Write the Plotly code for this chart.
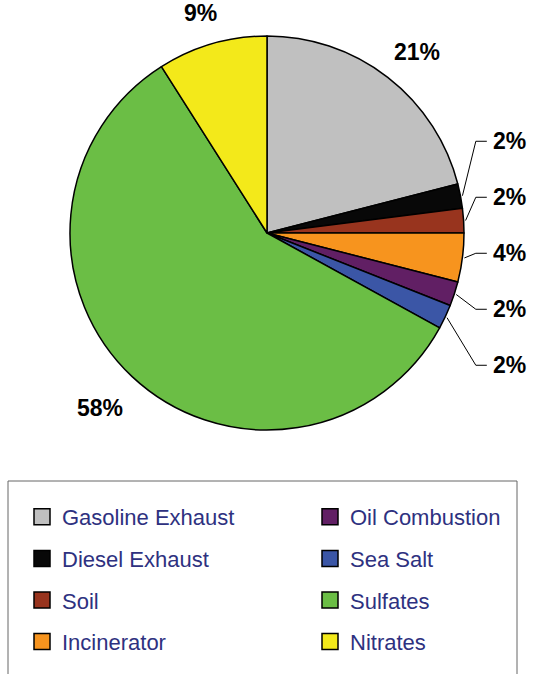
import math
import plotly.graph_objects as go

# Source contributions (percent of total)
categories = ["Gasoline Exhaust", "Diesel Exhaust", "Soil", "Incinerator",
              "Oil Combustion", "Sea Salt", "Sulfates", "Nitrates"]
shares = [21, 2, 2, 4, 2, 2, 58, 9]
colors = ["#c0c0c0", "#080808", "#98341e", "#f7941e",
          "#611f64", "#3b56a6", "#6bbe45", "#f3e91a"]
legend_col1 = categories[:4]
legend_col2 = categories[4:]

W, H = 533, 674
CX, CY, R = 267, 233, 197          # pie centre and radius (px)
FONT = "Liberation Sans, Arial, sans-serif"
TEXT_NAVY = "#2e3180"


def px(x):
    return x / W


def py(y):
    return 1 - y / H


fig = go.Figure()

fig.add_trace(go.Pie(
    labels=categories, values=shares, sort=False, direction="clockwise",
    rotation=0, textinfo="none", hoverinfo="label+percent",
    marker=dict(colors=colors, line=dict(color="black", width=1.5)),
    domain=dict(x=[px(CX - R), px(CX + R)], y=[py(CY + R), py(CY - R)]),
    showlegend=False,
))

# Percent labels: large slices sit just off the rim, small ones are
# stacked on the right and tied back with leader lines.
total = sum(shares)
cum = 0
small = []
for name, v in zip(categories, shares):
    theta = 2 * math.pi * (cum + v / 2) / total
    cum += v
    s, c = math.sin(theta), math.cos(theta)
    text = f"{round(100 * v / total)}%"
    if v >= 5:
        w = 12 * len(text) + 10
        g = 24
        lx = CX + (R + g) * s + s * w / 2
        ly = CY - (R + g) * c - c * 8 + (8 if c < 0 else 0)
        fig.add_annotation(x=px(lx), y=py(ly), xref="paper", yref="paper",
                           text=f"<b>{text}</b>", showarrow=False,
                           font=dict(family=FONT, size=23, color="black"),
                           xanchor="center", yanchor="middle")
    else:
        small.append((text, CX + R * 1.01 * s, CY - R * 1.01 * c))

gap = 56
mean_y = sum(e[2] for e in small) / len(small) - 4
elbow_x = CX + R * 1.06
for i, (text, ex, ey) in enumerate(small):
    ly = mean_y + (i - (len(small) - 1) / 2) * gap
    fig.add_shape(type="path", xref="paper", yref="paper",
                  path=f"M {px(ex)} {py(ey)} L {px(elbow_x)} {py(ly)} "
                       f"L {px(elbow_x + 11)} {py(ly)}",
                  line=dict(color="black", width=1))
    fig.add_annotation(x=px(elbow_x + 15), y=py(ly), xref="paper", yref="paper",
                       text=f"<b>{text}</b>", showarrow=False,
                       font=dict(family=FONT, size=23, color="black"),
                       xanchor="left", yanchor="middle")

# Legend entries in two columns
for name, col in zip(categories, colors):
    fig.add_trace(go.Scatter(
        x=[None], y=[None], mode="markers", name=name, legendgroup=name,
        legend="legend" if name in legend_col1 else "legend2",
        marker=dict(symbol="square", size=16, color=col,
                    line=dict(color="black", width=1.5)),
        hoverinfo="skip",
    ))

legend_common = dict(
    font=dict(family=FONT, size=22, color=TEXT_NAVY),
    bgcolor="rgba(0,0,0,0)", borderwidth=0, traceorder="grouped",
    tracegroupgap=10, yanchor="top", xanchor="left", itemclick=False,
)

# Legend frame (open at the bottom edge of the page)
fig.add_shape(type="rect", xref="paper", yref="paper",
              x0=px(8), x1=px(517), y0=-0.05, y1=py(481),
              line=dict(color="#666666", width=1), fillcolor="rgba(0,0,0,0)")

fig.update_layout(
    width=W, height=H,
    margin=dict(l=0, r=0, t=0, b=0),
    paper_bgcolor="white", plot_bgcolor="white",
    xaxis=dict(visible=False), yaxis=dict(visible=False),
    legend=dict(x=px(22), y=py(496), **legend_common),
    legend2=dict(x=px(310), y=py(496), **legend_common),
)

fig.write_html("out.html")
